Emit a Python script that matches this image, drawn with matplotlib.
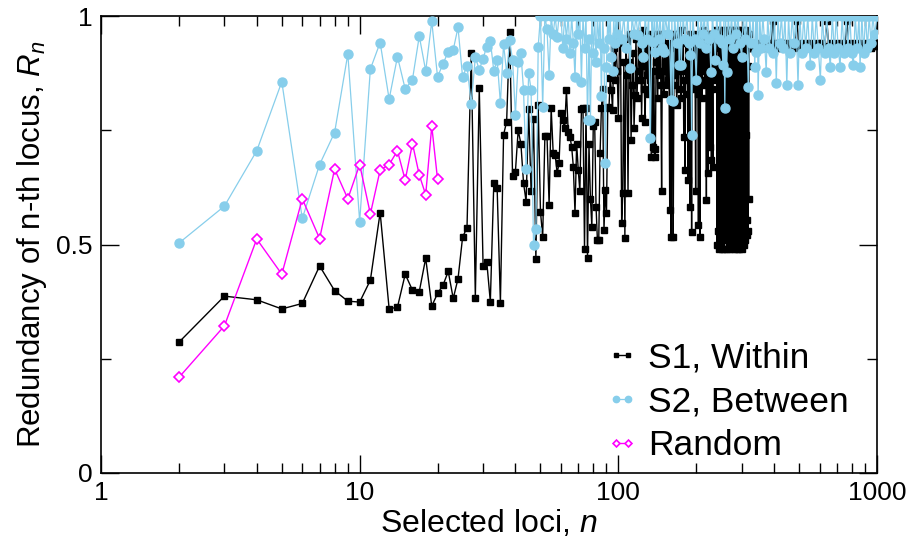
import matplotlib
matplotlib.use("Agg")
import matplotlib.pyplot as plt
from matplotlib.ticker import FixedLocator, NullFormatter

plt.rcParams['font.family'] = ['Liberation Sans', 'DejaVu Sans']
plt.rcParams['mathtext.fontset'] = 'custom'
plt.rcParams['mathtext.rm'] = 'Liberation Sans'
plt.rcParams['mathtext.it'] = 'Liberation Sans:italic'

# ---------------- data ----------------
# S1, Within: one value per n = 2 .. 325
s1_start = 2
s1_head = [
    0.286, 0.387, 0.379, 0.359, 0.371, 0.453, 0.399, 0.376,            # 2-9
    0.374, 0.422, 0.570, 0.359, 0.363, 0.435, 0.400, 0.397, 0.470, 0.365,  # 10-19
    0.393, 0.411, 0.441, 0.382, 0.425, 0.516, 0.537, 0.918, 0.384, 0.842,  # 20-29
    0.454, 0.462, 0.375, 0.634, 0.623, 0.373, 0.740, 0.769, 0.966, 0.650,  # 30-39
    0.659, 0.750, 0.721, 0.635, 0.594, 0.796, 0.616, 0.774, 0.468, 0.805,  # 40-49
    0.572, 0.517, 0.737, 0.737, 0.586, 0.798, 0.700, 0.696, 0.656, 0.678,  # 50-59
    0.787, 0.772, 0.754, 0.838, 0.747, 0.736, 0.714, 0.670, 0.568, 0.721,  # 60-69
    0.663, 0.616, 0.796, 0.798, 0.490, 0.798, 0.470, 0.720, 0.600, 0.539,  # 70-79
    0.760, 0.769, 0.583, 0.510, 0.510, 0.700, 0.798, 0.840, 0.532, 0.619,  # 80-89
    0.570, 0.800, 0.798, 0.864, 0.838, 0.794, 0.930, 0.860, 0.947, 0.880,  # 90-99
    0.776, 0.940, 0.950, 0.546, 0.612, 0.900, 0.514, 0.950, 0.870, 0.612,  # 100-109
    0.900, 0.960, 0.729, 0.850, 0.920, 0.754, 0.827, 0.950, 0.820, 0.880,  # 110-119
    0.960, 0.860, 0.930, 0.776, 0.890, 0.970, 0.840, 0.769, 0.950, 0.870,  # 120-129
    0.960, 0.830, 0.860, 0.950, 0.692, 0.880, 0.714, 0.950, 0.710, 0.692,  # 130-139
    0.900, 0.960, 0.820, 0.950, 0.870, 0.960, 0.850, 0.616, 0.940, 0.880,  # 140-149
    0.830, 0.960, 0.900, 0.849, 0.940, 0.860, 0.930, 0.890, 0.575, 0.940,  # 150-159
    0.517, 0.880, 0.960, 0.517, 0.850, 0.930, 0.870, 0.950, 0.805, 0.900,  # 160-169
    0.960, 0.840, 0.930, 0.880, 0.940, 0.820, 0.970, 0.890, 0.950, 0.736,  # 170-179
    0.860, 0.663, 0.950, 0.880, 0.940, 0.830, 0.641, 0.950, 0.870, 0.583,  # 180-189
    0.960, 0.850, 0.528, 0.940, 0.890, 0.950, 0.840, 0.960, 0.880, 0.616,  # 190-199
    0.950, 0.870, 0.930, 0.830, 0.543, 0.940, 0.890, 0.517, 0.950, 0.860,  # 200-209
    0.960, 0.820, 0.950, 0.970, 0.880, 0.960, 0.850, 0.950, 0.900, 0.597,  # 210-219
    0.960, 0.870, 0.656, 0.940, 0.890, 0.950, 0.714, 0.860, 0.960, 0.685,  # 220-229
    0.950, 0.840, 0.670, 0.960, 0.880, 0.930, 0.960, 0.860, 0.950, 0.970,  # 230-239
    0.950, 0.500, 0.900, 0.530, 0.940, 0.490, 0.970, 0.503, 0.880, 0.560,  # 240-249
    0.960, 0.490, 0.910, 0.520, 0.970, 0.550, 0.870, 0.490, 0.960, 0.510,  # 250-259
    0.940, 0.580, 0.970, 0.490, 0.890, 0.520, 0.960, 0.500, 0.920, 0.540,  # 260-269
    0.970, 0.490, 0.880, 0.530, 0.960, 0.500, 0.930, 0.570, 0.970, 0.490,  # 270-279
    0.900, 0.520, 0.960, 0.500, 0.860, 0.550, 0.970, 0.490, 0.930, 0.510,  # 280-289
    0.960, 0.530, 0.890, 0.490, 0.970, 0.560, 0.940, 0.500, 0.910, 0.520,  # 290-299
    0.970, 0.490, 0.880, 0.540, 0.950, 0.500, 0.960, 0.580, 0.900, 0.510,  # 300-309
    0.970, 0.740, 0.930, 0.520, 0.960, 0.554, 0.890, 0.530, 0.950, 0.600,  # 310-319
    0.960, 0.940, 0.930, 0.940, 0.930, 0.940,                              # 320-325
]
s1_tail_n = [330, 335, 340, 345, 350, 355, 360, 365, 370, 375, 380, 385, 390, 396,
             400, 406, 412, 418, 424, 430, 436, 442, 448, 455, 462, 469, 476, 483,
             491, 498, 506, 514, 522, 530, 539, 548, 557, 566, 575, 585, 595, 605,
             615, 627, 640, 650, 662, 674, 686, 698, 711, 724, 737, 751, 765, 778,
             792, 806, 820, 835, 850, 865, 880, 896, 912, 928, 945, 962, 980, 1000]
s1_tail_r = [0.930, 0.940, 0.930, 0.935, 0.940, 0.930, 0.935, 0.940, 0.930, 0.940,
             0.935, 0.930, 0.940, 0.990, 0.935, 0.930, 0.940, 0.935, 0.930, 0.940,
             0.935, 0.930, 0.940, 0.935, 0.930, 0.940, 0.935, 0.930, 0.990, 0.935,
             0.940, 0.930, 0.935, 0.940, 0.930, 0.935, 0.940, 0.930, 0.935, 0.940,
             0.930, 0.935, 0.940, 0.930, 0.990, 0.935, 0.940, 0.930, 0.935, 0.940,
             0.930, 0.935, 0.940, 0.930, 0.990, 0.935, 0.940, 0.930, 0.935, 0.940,
             0.930, 0.935, 0.940, 0.930, 0.935, 0.940, 0.930, 0.935, 0.940, 0.935]

# S2, Between: one value per n = 2 .. 100
s2_start = 2
s2_head = [
    0.503, 0.584, 0.705, 0.856, 0.557, 0.675, 0.745, 0.917,            # 2-9
    0.550, 0.884, 0.942, 0.818, 0.911, 0.840, 0.861, 0.956, 0.880, 0.988,  # 10-19
    0.867, 0.895, 0.922, 0.926, 0.975, 0.866, 0.891, 0.807, 0.910, 0.882,  # 20-29
    0.907, 0.933, 0.946, 0.880, 0.904, 0.809, 0.939, 0.875, 0.947, 0.904,  # 30-39
    0.783, 0.900, 0.920, 0.838, 0.665, 0.876, 0.838, 0.499, 0.533, 0.933,  # 40-49
    1.000, 0.800, 1.000, 0.971, 0.871, 1.000, 0.960, 1.000, 0.955, 1.000,  # 50-59
    1.000, 0.930, 1.000, 0.950, 1.000, 0.920, 1.000, 0.940, 0.867, 1.000,  # 60-69
    0.960, 1.000, 0.856, 1.000, 0.930, 1.000, 0.772, 0.950, 0.772, 1.000,  # 70-79
    0.920, 1.000, 0.900, 1.000, 0.940, 1.000, 0.825, 1.000, 0.930, 0.679,  # 80-89
    0.889, 1.000, 0.950, 1.000, 0.910, 0.880, 1.000, 0.940, 1.000, 0.960,  # 90-99
    1.000,                                                                 # 100
]
s2_tail_n = [101, 103, 105, 107, 109, 111, 113, 115, 117, 119, 121, 123, 125, 127,
             129, 131, 133, 135, 136, 138, 139, 141, 143, 145, 147, 149, 150, 152,
             155, 157, 160, 161, 163, 165, 168, 170, 172, 174, 175, 178, 181, 184,
             187, 189, 190, 192, 194, 197, 200, 203, 206, 209, 212, 215, 218, 221,
             225, 228, 231, 234, 237, 240, 244, 248, 251, 254, 256, 258, 260, 262,
             266, 270, 274, 278, 282, 286, 290, 295, 300, 304, 309, 313, 318, 322,
             327, 332, 337, 340, 342, 345, 347, 352, 357, 362, 367, 373, 378, 384,
             390, 396, 402, 408, 414, 420, 427, 434, 441, 448, 455, 462, 470, 478,
             486, 495, 503, 512, 521, 530, 540, 552, 562, 572, 582, 593, 604, 615,
             627, 639, 650, 660, 672, 684, 696, 708, 720, 733, 746, 759, 772, 785,
             798, 810, 824, 838, 852, 860, 874, 888, 903, 918, 933, 948, 964, 980,
             1000]
s2_tail_r = [1.000, 0.950, 1.000, 0.930, 1.000, 0.886, 1.000, 0.960, 1.000, 0.958,
             1.000, 0.940, 0.911, 1.000, 0.950, 1.000, 0.732, 1.000, 0.944, 1.000,
             0.922, 1.000, 0.950, 1.000, 0.930, 1.000, 0.922, 1.000, 0.960, 1.000,
             0.816, 1.000, 0.815, 1.000, 0.940, 1.000, 0.893, 1.000, 0.893, 1.000,
             0.950, 1.000, 0.940, 0.915, 1.000, 0.740, 1.000, 0.950, 0.860, 1.000,
             0.940, 1.000, 0.960, 1.000, 0.930, 1.000, 0.950, 0.878, 1.000, 0.960,
             0.904, 1.000, 0.950, 1.000, 0.940, 0.893, 1.000, 0.798, 1.000, 0.878,
             1.000, 0.950, 1.000, 0.930, 1.000, 0.960, 1.000, 0.940, 0.911, 1.000,
             0.950, 1.000, 0.844, 1.000, 0.940, 1.000, 0.889, 1.000, 0.922, 1.000,
             0.827, 1.000, 0.930, 1.000, 0.950, 0.878, 1.000, 0.930, 1.000, 0.920,
             1.000, 0.853, 1.000, 0.940, 1.000, 0.930, 1.000, 0.849, 1.000, 0.920,
             1.000, 0.940, 1.000, 0.849, 1.000, 0.920, 1.000, 0.930, 1.000, 0.893,
             1.000, 0.920, 1.000, 0.930, 0.860, 1.000, 0.920, 1.000, 0.930, 0.889,
             1.000, 0.920, 1.000, 0.930, 0.889, 1.000, 0.920, 1.000, 0.930, 1.000,
             0.920, 0.893, 1.000, 0.930, 1.000, 0.889, 1.000, 0.920, 1.000, 0.930,
             1.000, 0.940, 1.000, 0.960, 1.000]

# Random: n = 2 .. 20
rnd_n = [2, 3, 4, 5, 6, 7, 8, 9, 10, 11, 12, 13, 14, 15, 16, 17, 18, 19, 20]
rnd_r = [0.209, 0.322, 0.512, 0.435, 0.600, 0.513, 0.665, 0.600, 0.675, 0.567,
         0.663, 0.675, 0.705, 0.641, 0.721, 0.652, 0.609, 0.759, 0.643]

x_ticks = [1, 10, 100, 1000]
x_labels = ['1', '10', '100', '1000']
y_ticks = [0, 0.5, 1]
y_labels = ['0', '0.5', '1']
y_minor = [0.25, 0.75]

# ---------------- figure ----------------
s1_n = list(range(s1_start, s1_start + len(s1_head))) + s1_tail_n
s1_r = s1_head + s1_tail_r
s2_n = list(range(s2_start, s2_start + len(s2_head))) + s2_tail_n
s2_r = s2_head + s2_tail_r

fig = plt.figure(figsize=(9.09, 5.40), dpi=100)
ax = fig.add_axes([101/909, 1 - 473/540, (877 - 101)/909, (473 - 16)/540])

ax.plot(s1_n, s1_r, color='black', lw=1.0, marker='s', ms=5, mec='black', mfc='black',
        label='S1, Within', zorder=2)
ax.plot(s2_n, s2_r, color='#87CEEB', lw=0.9, marker='o', ms=6.5, mec='#87CEEB', mfc='#87CEEB',
        label='S2, Between', zorder=3)
ax.plot(rnd_n, rnd_r, color='#FF00FF', lw=1.0, marker='D', ms=5, mec='#FF00FF', mfc='white',
        mew=1.2, label='Random', zorder=4)

ax.set_xscale('log')
ax.set_xlim(1, 1000)
ax.set_ylim(0, 1)
ax.set_xticks(x_ticks)
ax.set_xticklabels(x_labels)
ax.xaxis.set_minor_formatter(NullFormatter())
ax.set_yticks(y_ticks)
ax.set_yticklabels(y_labels)
ax.yaxis.set_minor_locator(FixedLocator(y_minor))

ax.tick_params(which='both', direction='in', top=True, right=True, width=1.0, labelsize=19)
ax.tick_params(which='major', length=13, pad=6)
ax.tick_params(which='minor', length=7)
for sp in ax.spines.values():
    sp.set_linewidth(1.2)

ax.set_xlabel('Selected loci, $n$', fontsize=23, labelpad=2)
ax.set_ylabel('Redundancy of n-th locus, $R_n$', fontsize=22.5, labelpad=5)

leg = ax.legend(loc='lower right', bbox_to_anchor=(0.995, -0.03), frameon=False, fontsize=25.5,
                numpoints=2, handlelength=0.95, handletextpad=0.25, labelspacing=0.3,
                borderaxespad=0.3, markerscale=0.7)

fig.savefig('out.png', dpi=100)
